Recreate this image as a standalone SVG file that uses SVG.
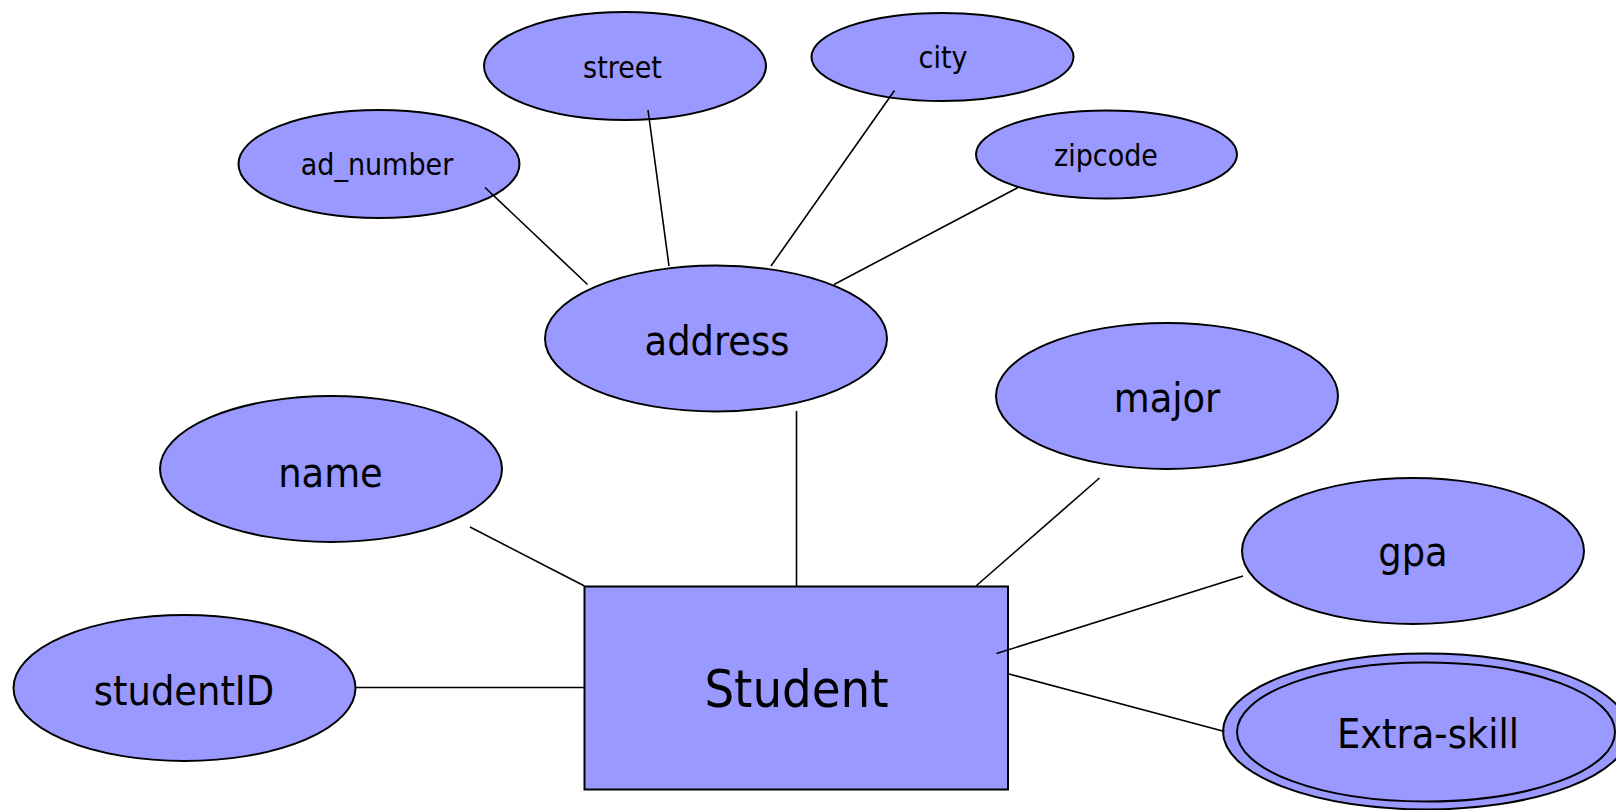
<svg xmlns="http://www.w3.org/2000/svg" width="1616" height="810" viewBox="0 0 1616 810">
  <style>
    .attr { fill: #9999FF; stroke: #000; stroke-width: 2; }
    .ent { fill: #9999FF; stroke: #000; stroke-width: 2; }
    .link { stroke: #000; stroke-width: 1.6; fill: none; }
    text { font-family: 'DejaVu Sans Condensed', 'DejaVu Sans', sans-serif; font-stretch: condensed; fill: #000; text-anchor: middle; }
    .sm { font-size: 30px; }
    .md { font-size: 41px; }
    .lg { font-size: 52px; }
  </style>
  <rect width="1616" height="810" fill="#fff"/>

  <!-- entity -->
  <g id="student">
    <rect class="ent" x="584.5" y="586.5" width="423.5" height="203"/>
    <text class="lg" x="796.5" y="707">Student</text>
  </g>

  <!-- attributes -->
  <g id="studentID">
    <ellipse class="attr" cx="184.5" cy="688" rx="171" ry="73"/>
    <text class="md" x="184" y="705">studentID</text>
  </g>
  <g id="name">
    <ellipse class="attr" cx="331" cy="469" rx="171" ry="73"/>
    <text class="md" x="330.5" y="486.5">name</text>
  </g>
  <g id="address">
    <ellipse class="attr" cx="716" cy="338.5" rx="171" ry="73"/>
    <text class="md" x="717" y="355">address</text>
  </g>
  <g id="major">
    <ellipse class="attr" cx="1167" cy="396" rx="171" ry="73"/>
    <text class="md" x="1167" y="412">major</text>
  </g>
  <g id="gpa">
    <ellipse class="attr" cx="1413" cy="551" rx="171" ry="73"/>
    <text class="md" x="1413" y="566">gpa</text>
  </g>
  <g id="extra-skill">
    <ellipse class="attr" cx="1426" cy="731.5" rx="203" ry="78"/>
    <ellipse class="attr" cx="1426" cy="732" rx="189" ry="69.5"/>
    <text class="md" x="1428" y="748">Extra-skill</text>
  </g>
  <g id="ad_number">
    <ellipse class="attr" cx="379" cy="164" rx="140.5" ry="54"/>
    <text class="sm" x="377" y="175">ad_number</text>
  </g>
  <g id="street">
    <ellipse class="attr" cx="625" cy="66" rx="141" ry="54"/>
    <text class="sm" x="622.5" y="77.5">street</text>
  </g>
  <g id="city">
    <ellipse class="attr" cx="942.5" cy="57" rx="131" ry="44"/>
    <text class="sm" x="943" y="68">city</text>
  </g>
  <g id="zipcode">
    <ellipse class="attr" cx="1106.5" cy="154.5" rx="130.5" ry="44"/>
    <text class="sm" x="1106" y="166">zipcode</text>
  </g>

  <!-- connectors, drawn over the shapes -->
  <g id="connectors">
    <line class="link" x1="485" y1="187.5" x2="587.5" y2="284.5"/>
    <line class="link" x1="648" y1="110" x2="669" y2="266"/>
    <line class="link" x1="894.5" y1="90.5" x2="771" y2="266"/>
    <line class="link" x1="1018" y1="187.5" x2="834" y2="284.5"/>
    <line class="link" x1="796.5" y1="411" x2="796.5" y2="586"/>
    <line class="link" x1="470" y1="527" x2="584.5" y2="586"/>
    <line class="link" x1="1099.5" y1="478" x2="976" y2="586"/>
    <line class="link" x1="1243" y1="576" x2="996.5" y2="653.5"/>
    <line class="link" x1="1009" y1="674" x2="1224.5" y2="731.5"/>
    <line class="link" stroke-width="2" x1="355.5" y1="687.5" x2="584.5" y2="687.5"/>
  </g>
</svg>
